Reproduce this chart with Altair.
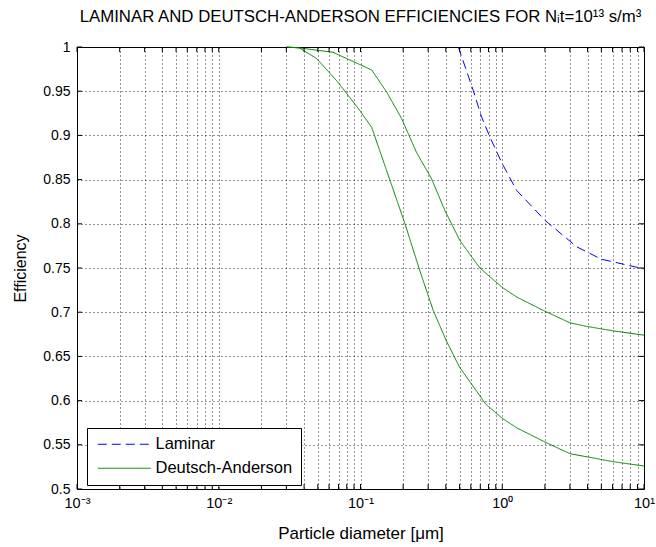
import altair as alt
import pandas as pd

# ---- data ----
lam_d = [0.49, 0.624, 0.714, 0.819, 1.0, 1.26, 2.0, 3.35, 5.0, 10.0]
lam_e = [1.0, 0.951, 0.921, 0.898, 0.868, 0.838, 0.804, 0.774, 0.760, 0.749]

da1_d = [0.03, 0.037, 0.064, 0.12, 0.153, 0.195, 0.248, 0.317, 0.394, 0.503, 0.695,
         1.0, 1.27, 1.95, 3.0, 3.92, 6.0, 10.0]
da1_e = [1.0, 0.999, 0.994, 0.974, 0.949, 0.919, 0.881, 0.851, 0.815, 0.781, 0.750,
         0.728, 0.717, 0.702, 0.688, 0.684, 0.679, 0.674]

da2_d = [0.03, 0.037, 0.049, 0.0695, 0.099, 0.12, 0.153, 0.206, 0.262, 0.326, 0.402,
         0.499, 0.765, 1.0, 1.27, 1.95, 3.0, 6.0, 10.0]
da2_e = [1.0, 0.999, 0.987, 0.960, 0.928, 0.909, 0.860, 0.800, 0.747, 0.702, 0.668,
         0.638, 0.596, 0.580, 0.569, 0.554, 0.540, 0.531, 0.526]

series_names = ["Laminar", "Deutsch-Anderson"]
series_colors = ["#0000ff", "#008000"]
series_dash = [[9, 5], [1, 0]]

x_ticks = [round(m * 10 ** k, 6) for k in range(-3, 1) for m in range(1, 10)] + [10]
y_ticks = [round(0.5 + 0.05 * i, 2) for i in range(11)]

rows = []
for d, e in zip(lam_d, lam_e):
    rows.append({"d": d, "E": e, "series": "Laminar", "curve": "lam"})
for d, e in zip(da1_d, da1_e):
    rows.append({"d": d, "E": e, "series": "Deutsch-Anderson", "curve": "da1"})
for d, e in zip(da2_d, da2_e):
    rows.append({"d": d, "E": e, "series": "Deutsch-Anderson", "curve": "da2"})
df = pd.DataFrame(rows)

W, H = 567, 442
FONT = "Liberation Sans"

xscale = alt.Scale(type="log", domain=[0.001, 10], nice=False)
yscale = alt.Scale(domain=[0.5, 1], nice=False, zero=False)

label_expr = ("datum.value==0.001?'10⁻³':datum.value==0.01?'10⁻²':"
              "datum.value==0.1?'10⁻¹':datum.value==1?'10⁰':datum.value==10?'10¹':''")

xaxis = alt.Axis(values=x_ticks, labelExpr=label_expr, grid=True, gridDash=[1, 3],
                 gridColor="black", gridOpacity=0.85, ticks=False, domain=False,
                 labelOverlap=False, labelFlush=False, labelPadding=7, labelFontSize=14.5,
                 title="Particle diameter [μm]", titleFontSize=17,
                 titleY=49, titleBaseline="alphabetic")
yaxis = alt.Axis(values=y_ticks, format=".2~f", grid=True, gridDash=[1, 3],
                 gridColor="black", gridOpacity=0.85, ticks=False, domain=False,
                 labelOverlap=False, labelFlush=False, labelPadding=7, labelFontSize=14,
                 title="Efficiency", titleFontSize=16, titlePadding=14)

legend = alt.Legend(title=None, orient="none", legendX=10, legendY=381,
                    symbolType="M-5,0H5", symbolSize=112, symbolStrokeWidth=1,
                    symbolOffset=21, labelOffset=23,
                    labelFontSize=16.5, labelFont=FONT, labelColor="black",
                    strokeColor="black", fillColor="white", padding=8,
                    rowPadding=7)

lines = alt.Chart(df).mark_line(strokeWidth=1).encode(
    x=alt.X("d:Q", scale=xscale, axis=xaxis),
    y=alt.Y("E:Q", scale=yscale, axis=yaxis),
    color=alt.Color("series:N", scale=alt.Scale(domain=series_names, range=series_colors),
                    legend=legend, sort=series_names),
    strokeDash=alt.StrokeDash("series:N", scale=alt.Scale(domain=series_names, range=series_dash),
                              legend=legend, sort=series_names),
    detail="curve:N",
    order="d:Q",
)

xt = pd.DataFrame({"d": x_ticks})
yt = pd.DataFrame({"E": y_ticks})
tick_x_bottom = alt.Chart(xt).mark_rule(color="black", strokeWidth=1).encode(
    x=alt.X("d:Q", scale=xscale, axis=xaxis), y=alt.value(H), y2=alt.value(H - 5))
tick_x_top = alt.Chart(xt).mark_rule(color="black", strokeWidth=1).encode(
    x=alt.X("d:Q", scale=xscale, axis=xaxis), y=alt.value(0), y2=alt.value(5))
tick_y_left = alt.Chart(yt).mark_rule(color="black", strokeWidth=1).encode(
    y=alt.Y("E:Q", scale=yscale, axis=yaxis), x=alt.value(0), x2=alt.value(5))
tick_y_right = alt.Chart(yt).mark_rule(color="black", strokeWidth=1).encode(
    y=alt.Y("E:Q", scale=yscale, axis=yaxis), x=alt.value(W), x2=alt.value(W - 5))

chart = alt.layer(lines, tick_x_bottom, tick_x_top, tick_y_left, tick_y_right).properties(
    width=W, height=H,
    title=alt.TitleParams(text="LAMINAR AND DEUTSCH-ANDERSON EFFICIENCIES FOR Nᵢt=10¹³ s/m³",
                          fontSize=16.8, fontWeight="normal", font=FONT, color="black",
                          anchor="middle", offset=14),
    autosize=alt.AutoSizeParams(type="none"),
    padding={"left": 77, "top": 47, "right": 12, "bottom": 58},
    background="white",
).configure_view(stroke="black", strokeWidth=1).configure_axis(
    labelFont=FONT, titleFont=FONT,
    titleFontWeight="normal", labelColor="black", titleColor="black",
)

chart.save("out.html", embed_options={"renderer": "svg", "actions": False})
